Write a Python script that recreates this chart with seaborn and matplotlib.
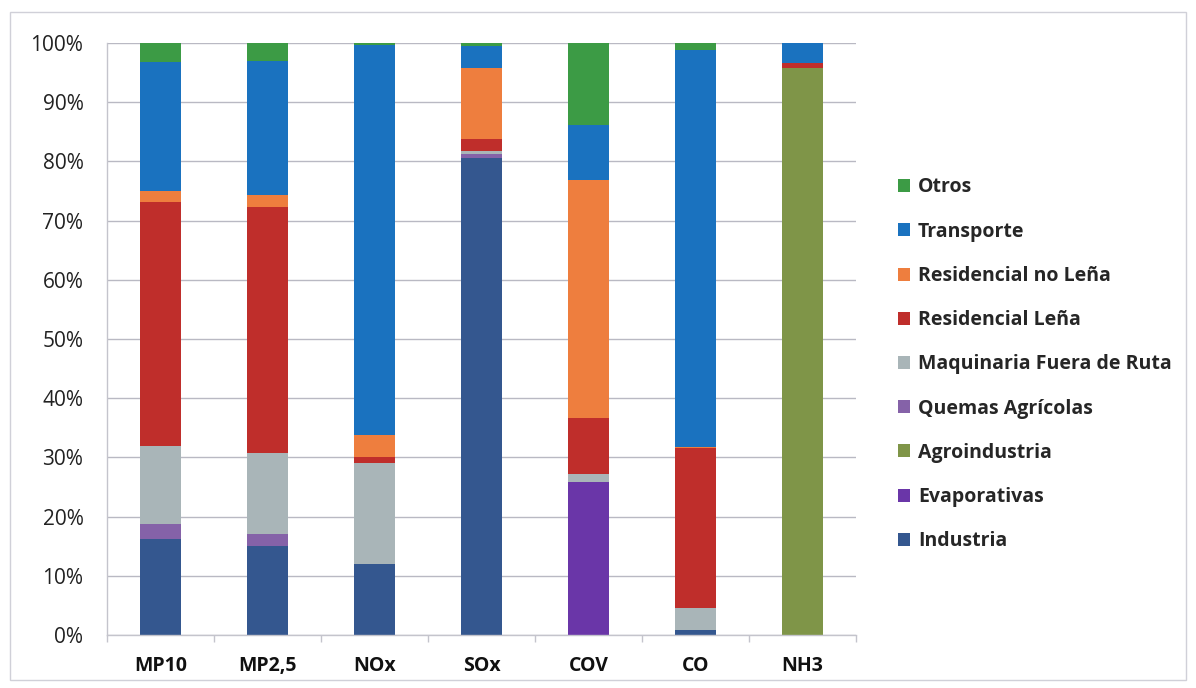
import numpy as np
import pandas as pd
import matplotlib
matplotlib.use("Agg")
import matplotlib.pyplot as plt
from matplotlib.patches import Patch, Rectangle
from matplotlib.ticker import PercentFormatter, FixedLocator
import seaborn as sns

# Emission share by source (percent of each pollutant)
categories = ["MP10", "MP2,5", "NOx", "SOx", "COV", "CO", "NH3"]
industria = [16.3, 15.1, 12.0, 80.5, 0.0, 0.8, 0.0]
evaporativas = [0.0, 0.0, 0.0, 0.0, 25.9, 0.0, 0.0]
agroindustria = [0.0, 0.0, 0.0, 0.0, 0.0, 0.0, 95.8]
quemas_agricolas = [2.4, 2.0, 0.0, 0.8, 0.0, 0.0, 0.0]
maquinaria = [13.3, 13.6, 17.1, 0.5, 1.3, 3.7, 0.0]
residencial_lena = [41.2, 41.6, 0.9, 2.0, 9.4, 27.1, 0.8]
residencial_no_lena = [1.8, 2.0, 3.7, 12.0, 40.2, 0.2, 0.0]
transporte = [21.8, 22.7, 66.0, 3.7, 9.3, 67.0, 3.4]
otros = [3.2, 3.0, 0.3, 0.5, 13.9, 1.2, 0.0]

# Series from bottom of the stack to the top
series = [
    ("Industria", industria, "#34578f"),
    ("Evaporativas", evaporativas, "#6a36a8"),
    ("Agroindustria", agroindustria, "#7f9548"),
    ("Quemas Agrícolas", quemas_agricolas, "#8562a8"),
    ("Maquinaria Fuera de Ruta", maquinaria, "#a9b5b8"),
    ("Residencial Leña", residencial_lena, "#bf2e2b"),
    ("Residencial no Leña", residencial_no_lena, "#ee7e3e"),
    ("Transporte", transporte, "#1a72bf"),
    ("Otros", otros, "#3c9b45"),
]

sns.set_theme(style="whitegrid")
plt.rcParams["font.family"] = ["Open Sans", "DejaVu Sans"]

fig = plt.figure(figsize=(11.96, 6.88), dpi=100)
ax = fig.add_axes([107 / 1196, 1 - 635 / 688, (856 - 107) / 1196, (635 - 43) / 688])

# Stacked bars: draw cumulative totals from the top series downward
cum = np.cumsum(np.array([s[1] for s in series]), axis=0)
for i in range(len(series) - 1, -1, -1):
    name, _, color = series[i]
    df = pd.DataFrame({"cat": categories, "val": cum[i]})
    sns.barplot(data=df, x="cat", y="val", color=color, ax=ax,
                width=0.39, saturation=1, linewidth=0, zorder=2)

ax.set_xlim(-0.5, len(categories) - 0.5)
ax.set_ylim(0, 100)
ax.set_yticks(np.arange(0, 101, 10))
ax.yaxis.set_major_formatter(PercentFormatter(decimals=0))
ax.set_xlabel("")
ax.set_ylabel("")
ax.grid(axis="y", color="#b9b9c3", linewidth=1.0)
ax.grid(axis="x", visible=False)
ax.set_axisbelow(True)
for side in ["top", "right"]:
    ax.spines[side].set_visible(False)
for side in ["bottom", "left"]:
    ax.spines[side].set_visible(True)
    ax.spines[side].set_color("#c4c4cc")
    ax.spines[side].set_linewidth(1.0)

# Category boundary tick marks below the baseline
ax.xaxis.set_minor_locator(FixedLocator(np.arange(-0.5, len(categories), 1.0)))
ax.tick_params(axis="x", which="minor", length=5, color="#c4c4cc", width=1, bottom=True)
ax.tick_params(axis="y", labelsize=15, colors="#222222", pad=17, length=0)
ax.tick_params(axis="x", which="major", labelsize=14, colors="#111111", pad=15, length=0)
for lbl in ax.get_xticklabels():
    lbl.set_fontweight("bold")

# Legend, top entry first
handles = [Patch(facecolor=c, edgecolor="none", label=n) for n, _, c in series[::-1]]
leg = fig.legend(handles=handles, loc="upper left",
                 bbox_to_anchor=(880 / 1196, 1 - 160 / 688),
                 frameon=False, handlelength=0.65, handleheight=0.65,
                 handletextpad=0.4, labelspacing=1.245,
                 prop={"size": 14, "weight": "bold"})

# Light outer frame of the chart area
fig.patches.append(Rectangle((10 / 1196, 8 / 688), 1176 / 1196, 668 / 688,
                             transform=fig.transFigure, fill=False,
                             edgecolor="#d0d0d8", linewidth=1.0))

fig.savefig("out.png", dpi=100)
